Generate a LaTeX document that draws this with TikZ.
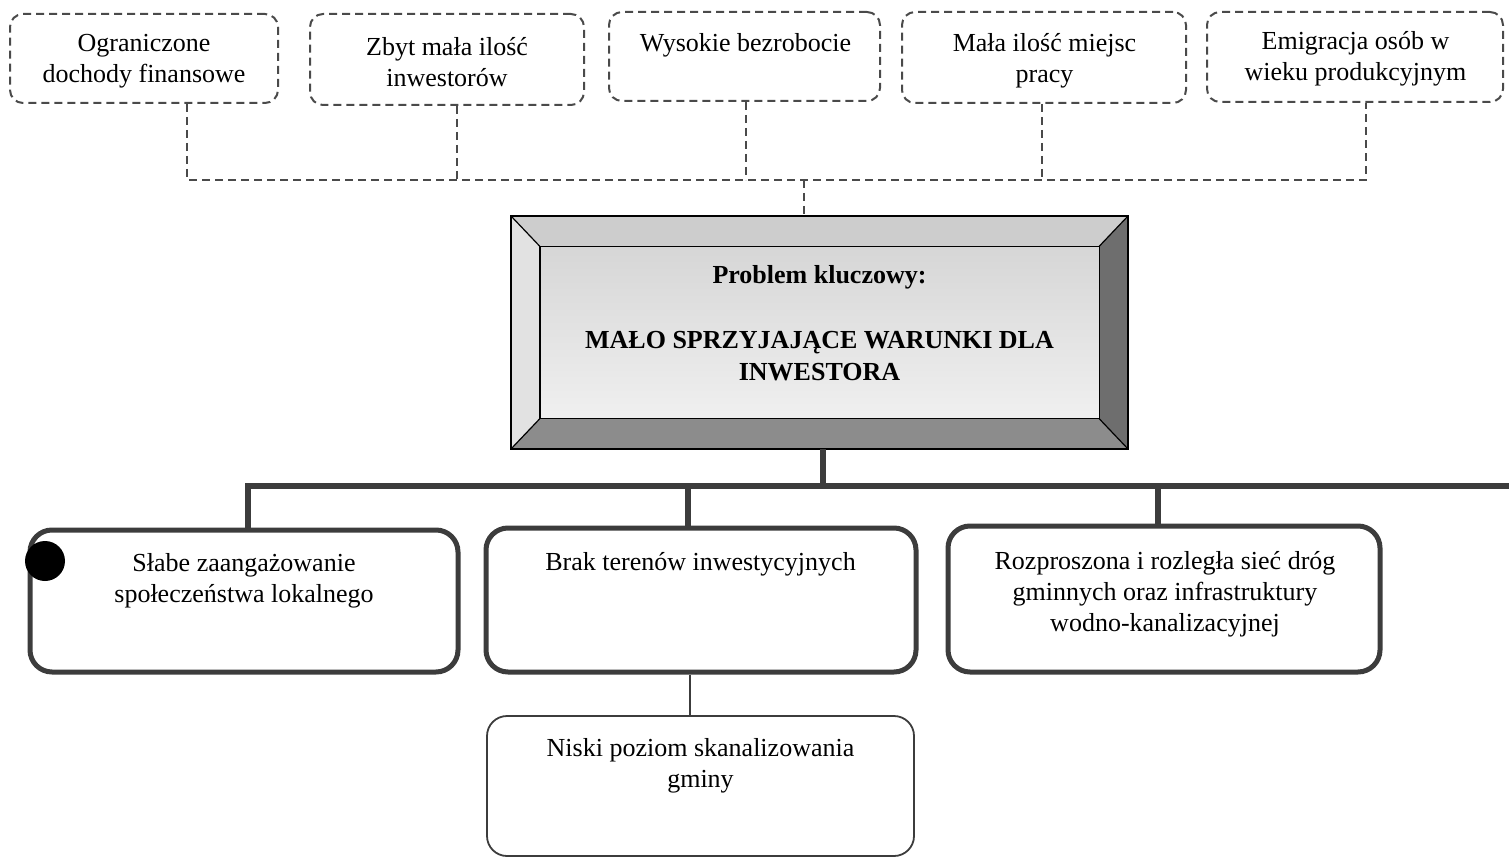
\documentclass[tikz,border=0pt]{standalone}
\usepackage{fontspec}
\setmainfont{Liberation Serif}
\definecolor{dashgray}{HTML}{4A4A4A}
\definecolor{boxgray}{HTML}{3C3C3C}
\definecolor{bevtop}{HTML}{CDCDCD}
\definecolor{bevleft}{HTML}{E2E2E2}
\definecolor{bevright}{HTML}{6E6E6E}
\definecolor{bevbot}{HTML}{8C8C8C}
\begin{document}
\begin{tikzpicture}[x=1pt,y=-1pt,
  dbox/.style={draw=dashgray, line width=2pt, dash pattern=on 8pt off 5pt, rounded corners=13pt, inner sep=0pt},
  dline/.style={draw=dashgray, line width=2pt, dash pattern=on 8pt off 5pt},
  bbox/.style={draw=boxgray, line width=5pt, rounded corners=22pt, inner sep=0pt},
  tbox/.style={draw=boxgray, line width=1.8pt, rounded corners=20pt, inner sep=0pt},
  thk/.style={draw=boxgray, line width=6pt},
  txt/.style={align=center, inner sep=0pt, font=\fontsize{26}{31}\selectfont},
  btxt/.style={align=center, inner sep=0pt, font=\fontsize{26}{32}\selectfont\bfseries}]
\useasboundingbox (0,0) rectangle (1509,858);

% top dashed boxes
\node[dbox, minimum width=268pt, minimum height=89pt] (t1) at (144,58.5) {};
\node[dbox, minimum width=274pt, minimum height=91pt] (t2) at (447,59.5) {};
\node[dbox, minimum width=271pt, minimum height=89pt] (t3) at (744.5,56.5) {};
\node[dbox, minimum width=284pt, minimum height=91pt] (t4) at (1044,57.5) {};
\node[dbox, minimum width=296pt, minimum height=90pt] (t5) at (1355,57) {};
\node[txt] (t1l) at (144,61.5) {Ograniczone\\dochody finansowe};
\node[txt] (t2l) at (447,62) {Zbyt mała ilość\\inwestorów};
\node[txt] (t3l) at (745.5,45) {Wysokie bezrobocie};
\node[txt] (t4l) at (1044.5,61) {Mała ilość miejsc\\pracy};
\node[txt] (t5l) at (1355.5,59) {Emigracja osób w\\wieku produkcyjnym};

% central box
\node[minimum width=617pt, minimum height=233pt, inner sep=0pt] (cb) at (819.5,332.5) {};
\node[minimum width=559pt, minimum height=172pt, inner sep=0pt] (ci) at (819.5,332.5) {};
\fill[bevtop] (cb.north west) -- (cb.north east) -- (ci.north east) -- (ci.north west) -- cycle;
\fill[bevleft] (cb.north west) -- (ci.north west) -- (ci.south west) -- (cb.south west) -- cycle;
\fill[bevright] (cb.north east) -- (cb.south east) -- (ci.south east) -- (ci.north east) -- cycle;
\fill[bevbot] (cb.south west) -- (cb.south east) -- (ci.south east) -- (ci.south west) -- cycle;
\shade[top color=gray!32, bottom color=gray!12] (ci.north west) rectangle (ci.south east);
\draw[black, line width=1.6pt] (cb.north west) rectangle (cb.south east);
\draw[black, line width=1.4pt] (ci.north west) rectangle (ci.south east);
\draw[black, line width=1.2pt] (cb.north west) -- (ci.north west) (cb.north east) -- (ci.north east)
  (cb.south west) -- (ci.south west) (cb.south east) -- (ci.south east);
\node[btxt] (cbt1) at (819.5,277) {Problem kluczowy:};
\node[btxt] (cbt2) at (819.5,356) {MAŁO SPRZYJAJĄCE WARUNKI DLA\\INWESTORA};

% dashed connectors
\coordinate (j1) at (187,180);
\coordinate (j2) at (457,180);
\coordinate (j3) at (746,180);
\coordinate (j4) at (1042,180);
\coordinate (j5) at (1366,180);
\coordinate (jc) at (804,180);
\draw[dline] (t1.south -| j1) -- (j1) -- (j5) -- (t5.south -| j5);
\draw[dline] (t2.south -| j2) -- (j2);
\draw[dline] (t3.south -| j3) -- (j3);
\draw[dline] (t4.south -| j4) -- (j4);
\draw[dline] (jc) -- (cb.north -| jc);

% bottom boxes
\node[bbox, minimum width=428pt, minimum height=142pt] (b1) at (244,601) {};
\node[bbox, minimum width=430pt, minimum height=144pt] (b2) at (701,600) {};
\node[bbox, minimum width=432pt, minimum height=146pt] (b3) at (1164,599) {};
\node[tbox, minimum width=427pt, minimum height=140pt] (b4) at (700.5,786) {};
\node[txt] (b1l) at (244,580.5) {Słabe zaangażowanie\\społeczeństwa lokalnego};
\node[txt] (b2l) at (700.5,564) {Brak terenów inwestycyjnych};
\node[txt] (b3l) at (1165,594.5) {Rozproszona i rozległa sieć dróg\\gminnych oraz infrastruktury\\wodno-kanalizacyjnej};
\node[txt] (b4l) at (700.5,766) {Niski poziom skanalizowania\\gminy};

% thick connectors
\coordinate (hc) at (823,486);
\coordinate (h1) at (248,486);
\coordinate (h2) at (688,486);
\coordinate (h3) at (1158,486);
\coordinate (hr) at (1509,486);
\draw[thk] (cb.south -| hc) -- (hc);
\draw[thk] (b1.north -| h1) -- (h1) -- (hr);
\draw[thk] (h2) -- (b2.north -| h2);
\draw[thk] (h3) -- (b3.north -| h3);
\coordinate (v4) at (690,700);
\draw[draw=boxgray, line width=1.6pt] (b2.south -| v4) -- (b4.north -| v4);

% black dot
\node[circle, fill=black, minimum size=40pt, inner sep=0pt] (dot) at (45,561) {};
\end{tikzpicture}
\end{document}
